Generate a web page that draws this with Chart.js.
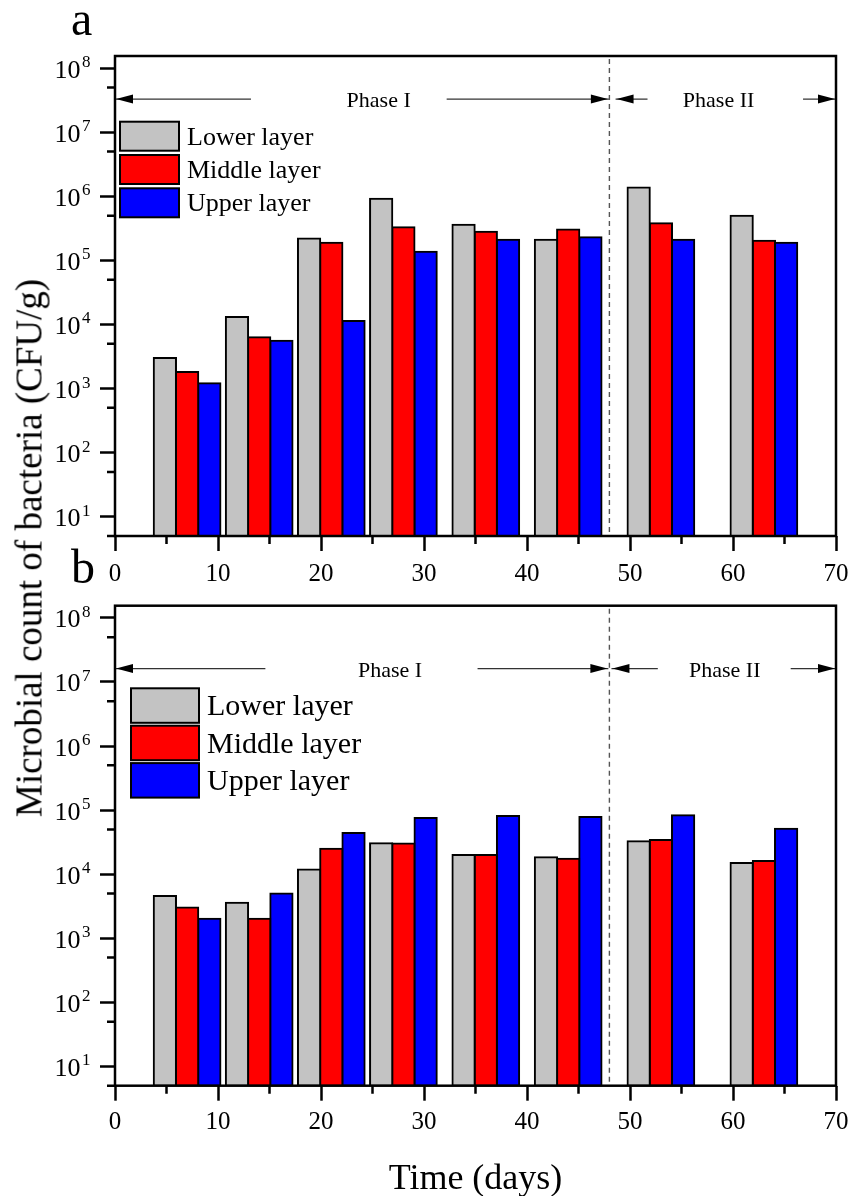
<!DOCTYPE html>
<html><head><meta charset="utf-8">
<script src="https://cdn.jsdelivr.net/npm/chart.js@4.4.0/dist/chart.umd.min.js"></script>
<style>
html,body{margin:0;padding:0;background:#fff;}
body{width:851px;height:1196px;position:relative;overflow:hidden;font-family:"Liberation Serif","Times New Roman",serif;}
#wa{position:absolute;left:0;top:0;width:851px;height:595px;}
#wb{position:absolute;left:0;top:595px;width:851px;height:601px;}
.lbl{position:absolute;color:#000;line-height:1;white-space:nowrap;}
#pa{left:71px;top:-5px;font-size:48px;}
#pb{left:71px;top:543px;font-size:48px;}
#xt{left:475.5px;top:1159px;font-size:36px;transform:translateX(-50%);}
#yt{left:28.5px;top:548px;font-size:37px;transform:translate(-50%,-50%) rotate(-90deg);}
</style></head><body>
<div id="wa"><canvas id="ca" width="851" height="595"></canvas></div>
<div id="wb"><canvas id="cb" width="851" height="601"></canvas></div>
<div class="lbl" id="pa">a</div>
<div class="lbl" id="pb">b</div>
<div class="lbl" id="yt">Microbial count of bacteria (CFU/g)</div>
<div class="lbl" id="xt">Time (days)</div>
<script>
// ---- data ----
const days = [7, 14, 21, 28, 36, 44, 53, 63];
const seriesNames = ['Lower layer', 'Middle layer', 'Upper layer'];
const lowerA  = [3000, 13100, 220000, 920000, 360000, 210000, 1370000, 500000];
const middleA = [1820, 6300, 189000, 330000, 280000, 305000, 380000, 203000];
const upperA  = [1210, 5550, 11300, 137000, 210000, 230000, 210000, 189000];
const lowerB  = [4550, 3590, 11800, 30300, 20000, 18400, 32600, 15000];
const middleB = [3030, 2020, 25000, 30000, 20000, 17400, 34300, 16000];
const upperB  = [2020, 5000, 44000, 75000, 81000, 78000, 83000, 51000];
const xTickValues = [0, 10, 20, 30, 40, 50, 60, 70];
const xMinorValues = [5, 15, 25, 35, 45, 55, 65];
const yTickExponents = [1, 2, 3, 4, 5, 6, 7, 8];
const yMinorValues = [5, 50, 500, 5000, 50000, 500000, 5000000, 50000000];
const phaseBoundary = 48;
const phaseNames = ['Phase I', 'Phase II'];

// ---- styles ----
const barColors = ['#C3C3C3', '#FF0000', '#0000FF'];
const FONT = '"Liberation Serif","Times New Roman",serif';

const panelA = {
  topPad: 56, xHeight: 59, xLabelPad: 8,
  arrowY: 3.3e7, phaseTextX: [25.6, 58.6],
  arrows: [[0, 13.2, 'left'], [32.2, 47.95, 'right'], [48.6, 51.7, 'left'], [66.8, 70, 'right']],
  legend: {x: 120, y: 121.7, w: 59, h: 29, step: 33.3, fs: 26, gap: 8}
};
const panelB = {
  topPad: 10.7, xHeight: 110.3, xLabelPad: 7,
  arrowY: 1.62e7, phaseTextX: [26.7, 59.2],
  arrows: [[0, 14.6, 'left'], [35.2, 47.9, 'right'], [48.2, 52.7, 'left'], [65.6, 70, 'right']],
  legend: {x: 131, y: 93.3, w: 68, h: 34.5, step: 37.4, fs: 30, gap: 8}
};

function arrowHead(ctx, tx, ty, dir) {
  const L = 17, H = 4.5, s = dir === 'left' ? 1 : -1;
  ctx.beginPath();
  ctx.moveTo(tx, ty);
  ctx.lineTo(tx + s * L, ty - H);
  ctx.lineTo(tx + s * L, ty + H);
  ctx.closePath();
  ctx.fill();
}

const decorPlugin = {
  id: 'decor',
  afterDraw(chart) {
    const P = chart.options.plugins.decor;
    const {ctx, chartArea: ca} = chart;
    const x = chart.scales.x, y = chart.scales.y;
    ctx.save();
    // phase boundary dashed line
    const bx = x.getPixelForValue(phaseBoundary);
    ctx.strokeStyle = '#555'; ctx.lineWidth = 1.4; ctx.setLineDash([5, 4]);
    ctx.beginPath(); ctx.moveTo(bx, ca.top + 3); ctx.lineTo(bx, ca.bottom); ctx.stroke();
    ctx.setLineDash([]);
    // arrows
    const ay = y.getPixelForValue(P.arrowY);
    ctx.strokeStyle = '#333'; ctx.fillStyle = '#000'; ctx.lineWidth = 1.2;
    P.arrows.forEach(([a, b, dir]) => {
      const pa = x.getPixelForValue(a), pb = x.getPixelForValue(b);
      ctx.beginPath(); ctx.moveTo(pa, ay); ctx.lineTo(pb, ay); ctx.stroke();
      if (dir === 'left') arrowHead(ctx, pa + 1, ay, 'left'); else arrowHead(ctx, pb - 1, ay, 'right');
    });
    ctx.font = '22px ' + FONT; ctx.textAlign = 'center'; ctx.textBaseline = 'alphabetic';
    phaseNames.forEach((t, i) => ctx.fillText(t, x.getPixelForValue(P.phaseTextX[i]), ay + 8));
    // frame
    ctx.strokeStyle = '#000'; ctx.lineWidth = 2.5;
    ctx.strokeRect(ca.left, ca.top, ca.right - ca.left, ca.bottom - ca.top);
    // minor ticks
    ctx.lineWidth = 2.5;
    ctx.beginPath();
    yMinorValues.forEach(v => { const py = y.getPixelForValue(v); ctx.moveTo(ca.left - 8, py); ctx.lineTo(ca.left, py); });
    xMinorValues.forEach(v => { const px = x.getPixelForValue(v); ctx.moveTo(px, ca.bottom); ctx.lineTo(px, ca.bottom + 8); });
    ctx.stroke();
    // y tick labels 10^k
    yTickExponents.forEach(k => {
      const py = y.getPixelForValue(Math.pow(10, k));
      ctx.font = '26px ' + FONT; ctx.textAlign = 'right';
      ctx.fillText('10', 80.5, py + 9.5);
      ctx.font = '17px ' + FONT; ctx.textAlign = 'left';
      ctx.fillText(String(k), 82, py - 1);
    });
    // legend
    const L = P.legend;
    chart.data.datasets.forEach((ds, i) => {
      const by = L.y + i * L.step;
      ctx.fillStyle = ds.backgroundColor;
      ctx.fillRect(L.x, by, L.w, L.h);
      ctx.strokeStyle = '#000'; ctx.lineWidth = 2;
      ctx.strokeRect(L.x, by, L.w, L.h);
      ctx.fillStyle = '#000'; ctx.font = L.fs + 'px ' + FONT; ctx.textAlign = 'left';
      ctx.fillText(ds.label, L.x + L.w + L.gap, by + L.h / 2 + 0.331 * L.fs);
    });
    ctx.restore();
  }
};

function makeChart(id, vals, P) {
  return new Chart(document.getElementById(id), {
    type: 'bar',
    data: {
      datasets: vals.map((v, k) => ({
        label: seriesNames[k],
        data: days.map((d, i) => ({x: d, y: v[i]})),
        backgroundColor: barColors[k],
        borderColor: '#000', borderWidth: 2, inflateAmount: 1, borderSkipped: false,
        categoryPercentage: 0.925, barPercentage: 1
      }))
    },
    options: {
      responsive: false, animation: false, devicePixelRatio: 1,
      layout: {padding: {top: P.topPad, right: 15, left: 0, bottom: 0}},
      plugins: {legend: {display: false}, tooltip: {enabled: false}, decor: P},
      scales: {
        x: {
          type: 'linear', min: 0, max: 70, bounds: 'data', offset: false,
          afterBuildTicks: s => { s.ticks = xTickValues.map(v => ({value: v})); },
          afterFit: s => { s.height = P.xHeight; s.paddingLeft = 0; s.paddingRight = 0; },
          ticks: {color: '#000', font: {family: FONT, size: 25}, padding: P.xLabelPad, maxRotation: 0, autoSkip: false},
          grid: {offset: false, drawOnChartArea: false, drawTicks: true, tickLength: 15, tickWidth: 2.5, tickColor: '#000'},
          border: {display: false}
        },
        y: {
          type: 'logarithmic', min: 5, max: 1.55e8, bounds: 'data',
          afterBuildTicks: s => { s.ticks = yTickExponents.map(k => ({value: Math.pow(10, k)})); },
          afterFit: s => { s.width = 115; s.paddingTop = 0; s.paddingBottom = 0; },
          ticks: {display: false},
          grid: {offset: false, drawOnChartArea: false, drawTicks: true, tickLength: 15, tickWidth: 2.5, tickColor: '#000'},
          border: {display: false}
        }
      }
    },
    plugins: [decorPlugin]
  });
}

makeChart('ca', [lowerA, middleA, upperA], panelA);
makeChart('cb', [lowerB, middleB, upperB], panelB);
</script>
</body></html>
